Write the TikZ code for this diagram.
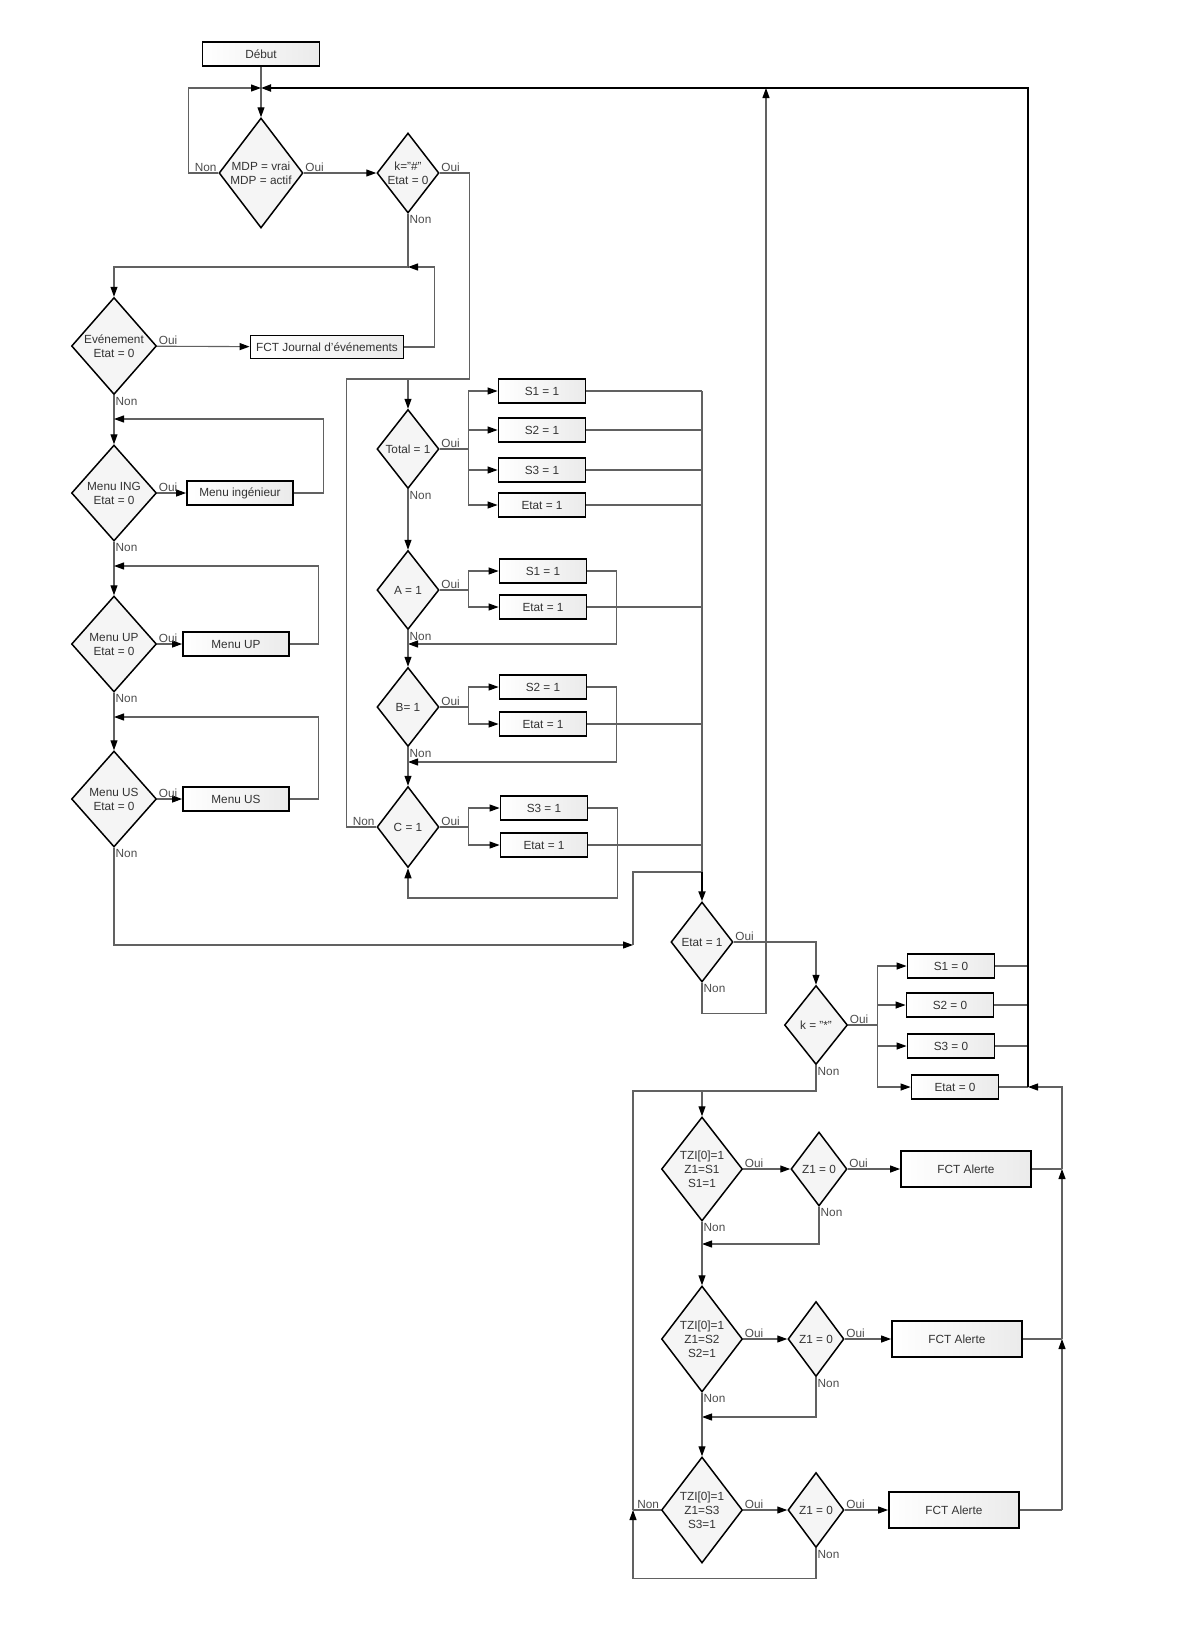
\documentclass[tikz,border=0pt]{standalone}
\usepackage{fontspec}
\setmainfont{Liberation Sans}
\usetikzlibrary{shapes.geometric,arrows.meta}
\tikzset{
	boite/.style={rectangle, draw=black, line width=1.8pt, left color=white, right color=gray!16, minimum width=87pt, minimum height=24pt, inner sep=0pt, text=black!80},
	losange/.style={diamond, draw=black, line width=1.5pt, fill=gray!8, inner sep=-5pt, align=center, text=black!80},
	lien/.style={draw=black!62, line width=1.1pt},
	fleche/.style={lien, -{Triangle[length=10pt,width=7pt,color=black]}},
	fort/.style={draw=black, line width=2pt, -{Triangle[length=10pt,width=7pt]}},
	oui/.style={anchor=south west, inner sep=1.5pt, text=black!70},
	non/.style={anchor=north west, inner sep=1.5pt, text=black!70},
	nong/.style={anchor=south east, inner sep=1.5pt, text=black!70}
}

\begin{document}
\begin{tikzpicture}[x=1pt, y=-1pt, every node/.append style={font=\fontsize{11.8}{14}\selectfont}]
			%%%%% START %%%%%
			\useasboundingbox (0,0) rectangle (1200,1650);
			
			\node[boite, minimum width=117pt] (debut) at (261,54) {Début};
			\coordinate (j0) at (261,88);
			\node[losange, minimum width=84pt, minimum height=110pt] (mdp) at (261,173) {MDP = vrai\\MDP = actif};
			\node[losange, minimum width=62pt, minimum height=80pt] (kdiese) at (408,173) {k="\#"\\Etat = 0};
			
			% menus
			\node[losange, minimum width=85pt, minimum height=97pt] (evt) at (114,346) {Evénement\\Etat = 0};
			\node[boite, minimum width=153pt, minimum height=23pt] (journal) at (327,347) {FCT Journal d'événements};
			\node[losange, minimum width=85pt, minimum height=96pt] (ing) at (114,493) {Menu ING\\Etat = 0};
			\node[boite, minimum width=106pt] (menuing) at (240,493) {Menu ingénieur};
			\node[losange, minimum width=85pt, minimum height=96pt] (up) at (114,644) {Menu UP\\Etat = 0};
			\node[boite, minimum width=106pt] (menuup) at (236,644) {Menu UP};
			\node[losange, minimum width=85pt, minimum height=96pt] (us) at (114,799) {Menu US\\Etat = 0};
			\node[boite, minimum width=106pt] (menuus) at (236,799) {Menu US};
			
			% sorties
			\node[losange, minimum width=62pt, minimum height=79pt] (total) at (408,449) {Total = 1};
			\node[boite] (tS1) at (542,391) {S1 = 1};
			\node[boite] (tS2) at (542,430) {S2 = 1};
			\node[boite] (tS3) at (542,470) {S3 = 1};
			\node[boite] (tEtat) at (542,505) {Etat = 1};
			\node[losange, minimum width=62pt, minimum height=79pt] (A) at (408,590) {A = 1};
			\node[boite] (aS1) at (543,571) {S1 = 1};
			\node[boite] (aEtat) at (543,607) {Etat = 1};
			\node[losange, minimum width=62pt, minimum height=79pt] (B) at (408,707) {B= 1};
			\node[boite] (bS2) at (543,687) {S2 = 1};
			\node[boite] (bEtat) at (543,724) {Etat = 1};
			\node[losange, minimum width=62pt, minimum height=81pt] (C) at (408,827) {C = 1};
			\node[boite] (cS3) at (544,808) {S3 = 1};
			\node[boite] (cEtat) at (544,845) {Etat = 1};
			
			% remise a zero
			\node[losange, minimum width=62pt, minimum height=80pt] (etat1) at (702,942) {Etat = 1};
			\node[losange, minimum width=63pt, minimum height=79pt] (kstar) at (816,1025) {k = "*"};
			\node[boite] (zS1) at (951,966) {S1 = 0};
			\node[boite] (zS2) at (950,1005) {S2 = 0};
			\node[boite] (zS3) at (951,1046) {S3 = 0};
			\node[boite] (zEtat) at (955,1087) {Etat = 0};
			
			% alertes
			\node[losange, minimum width=81pt, minimum height=104pt] (tzi1) at (702,1169) {TZI[0]=1\\Z1=S1\\S1=1};
			\node[losange, minimum width=56pt, minimum height=74pt] (z1a) at (819,1169) {Z1 = 0};
			\node[boite, minimum width=130pt, minimum height=36pt] (alerte1) at (966,1169) {FCT Alerte};
			\node[losange, minimum width=81pt, minimum height=106pt] (tzi2) at (702,1339) {TZI[0]=1\\Z1=S2\\S2=1};
			\node[losange, minimum width=56pt, minimum height=75pt] (z1b) at (816,1339) {Z1 = 0};
			\node[boite, minimum width=130pt, minimum height=36pt] (alerte2) at (957,1339) {FCT Alerte};
			\node[losange, minimum width=81pt, minimum height=106pt] (tzi3) at (702,1510) {TZI[0]=1\\Z1=S3\\S3=1};
			\node[losange, minimum width=56pt, minimum height=75pt] (z1c) at (816,1510) {Z1 = 0};
			\node[boite, minimum width=130pt, minimum height=36pt] (alerte3) at (954,1510) {FCT Alerte};
			
			\coordinate (j1) at (408,267);
			\coordinate (j2) at (114,419);
			\coordinate (j3) at (114,566);
			\coordinate (j4) at (114,717);
			\coordinate (j5) at (408,644);
			\coordinate (j6) at (408,762);
			\coordinate (j7) at (633,945);
			\coordinate (j8) at (702,872);
			\coordinate (j9) at (408,379);
			\coordinate (j10) at (408,898);
			\coordinate (j11) at (766,88);
			\coordinate (j12) at (1028,1087);
			\coordinate (j13) at (702,1091);
			\coordinate (j14) at (702,1244);
			\coordinate (j15) at (702,1417);
			\coordinate (j16) at (633,1510);
			\coordinate (r1) at (1062,1169);
			\coordinate (r2) at (1062,1339);
			\coordinate (r3) at (1062,1510);
			
			% debut
			\draw[lien] (debut) -- (j0);
			\draw[fleche] (j0) -- (mdp);
			\draw[fleche] (mdp.west) -- ++(-30,0) |- (j0);
			\draw[fleche] (mdp) -- (kdiese);
			\draw[fleche] (kdiese) -- (j1) -| (evt);
			\draw[fleche] (journal.east) -- ++(30,0) |- (j1);
			\draw[fleche] (evt) -- (journal);
			
			\draw[fleche] (evt) -- (ing);
			\draw[fleche] (menuing.east) -- ++(30,0) |- (j2);
			\draw[fleche] (ing) -- (menuing);
			\draw[fleche] (ing) -- (up);
			\draw[fleche] (menuup.east) -- ++(29,0) |- (j3);
			\draw[fleche] (up) -- (menuup);
			\draw[fleche] (up) -- (us);
			\draw[fleche] (menuus.east) -- ++(29,0) |- (j4);
			\draw[fleche] (us) -- (menuus);
			\draw[fleche] (us) |- (j7);
			\draw[lien] (j7) |- (j8);
			
			\draw[lien] (kdiese.east) -- ++(30,0) |- (j9);
			\draw[lien] (C.west) -- ++(-30,0) |- (j9);
			\draw[fleche] (j9) -- (total);
			
			\draw[lien] (total.east) -- ++(29,0) coordinate (t0);
			\foreach \b in {tS1,tS2,tS3,tEtat}
				\draw[fleche] (t0) |- (\b);
			\foreach \b in {tS1,tS2,tS3,tEtat,aEtat,bEtat,cEtat}
				\draw[lien] (\b.east) -- (\b.east -| j8);
			\draw[lien] (tS1.east -| j8) -- (j8);
			\draw[fort] (j8) -- (etat1);
			
			\draw[fleche] (total) -- (A);
			\draw[lien] (A.east) -- ++(29,0) coordinate (a0);
			\draw[fleche] (a0) |- (aS1);
			\draw[fleche] (a0) |- (aEtat);
			\draw[fleche] (aS1.east) -- ++(29,0) |- (j5);
			\draw[fleche] (A) -- (B);
			\draw[lien] (B.east) -- ++(29,0) coordinate (b0);
			\draw[fleche] (b0) |- (bS2);
			\draw[fleche] (b0) |- (bEtat);
			\draw[fleche] (bS2.east) -- ++(29,0) |- (j6);
			\draw[fleche] (B) -- (C);
			\draw[lien] (C.east) -- ++(29,0) coordinate (c0);
			\draw[fleche] (c0) |- (cS3);
			\draw[fleche] (c0) |- (cEtat);
			\draw[fleche] (cS3.east) -- ++(29,0) |- (j10) -- (C);
			
			\draw[fleche] (etat1.east) -| (kstar);
			\draw[fleche] (etat1.south) -- ++(0,31) -| (j11);
			\draw[lien] (kstar.east) -- ++(29,0) coordinate (k0);
			\foreach \b in {zS1,zS2,zS3,zEtat}
				\draw[fleche] (k0) |- (\b);
			\foreach \b in {zS1,zS2,zS3}
				\draw[lien] (\b.east) -- (\b.east -| j12);
			\draw[lien] (zEtat.east) -- (j12);
			\draw[fort] (j12) |- (j0);
			
			\draw[fleche] (kstar.south) |- (j13) -- (tzi1);
			\draw[fleche] (tzi1) -- (z1a);
			\draw[fleche] (z1a) -- (alerte1);
			\draw[fleche] (z1a) |- (j14);
			\draw[fleche] (tzi1) -- (tzi2);
			\draw[fleche] (tzi2) -- (z1b);
			\draw[fleche] (z1b) -- (alerte2);
			\draw[fleche] (z1b) |- (j15);
			\draw[fleche] (tzi2) -- (tzi3);
			\draw[fleche] (tzi3) -- (z1c);
			\draw[fleche] (z1c) -- (alerte3);
			\draw[fleche] (z1c.south) -- ++(0,30) -| (j16);
			\draw[lien] (tzi3.west) -- (j16);
			\draw[lien] (j16) |- (j13);
			
			\draw[lien] (alerte3.east) -- (r3);
			\draw[fleche] (r3) -- (r2);
			\draw[lien] (alerte2.east) -- (r2);
			\draw[fleche] (r2) -- (r1);
			\draw[lien] (alerte1.east) -- (r1);
			\draw[fleche] (r1) |- (j12);
			
			% libelles
			\node[nong] at (mdp.west) {Non};
			\node[oui] at (mdp.east) {Oui};
			\node[oui] at (kdiese.east) {Oui};
			\node[non] at (kdiese.south) {Non};
			\node[oui] at (evt.east) {Oui};
			\node[non] at (evt.south) {Non};
			\node[oui] at (ing.east) {Oui};
			\node[non] at (ing.south) {Non};
			\node[oui] at (up.east) {Oui};
			\node[non] at (up.south) {Non};
			\node[oui] at (us.east) {Oui};
			\node[non] at (us.south) {Non};
			\node[oui] at (total.east) {Oui};
			\node[non] at (total.south) {Non};
			\node[oui] at (A.east) {Oui};
			\node[non] at (A.south) {Non};
			\node[oui] at (B.east) {Oui};
			\node[non] at (B.south) {Non};
			\node[oui] at (C.east) {Oui};
			\node[nong] at (C.west) {Non};
			\node[oui] at (etat1.east) {Oui};
			\node[non] at (etat1.south) {Non};
			\node[oui] at (kstar.east) {Oui};
			\node[non] at (kstar.south) {Non};
			\node[oui] at (tzi1.east) {Oui};
			\node[non] at (tzi1.south) {Non};
			\node[oui] at (z1a.east) {Oui};
			\node[non] at (z1a.south) {Non};
			\node[oui] at (tzi2.east) {Oui};
			\node[non] at (tzi2.south) {Non};
			\node[oui] at (z1b.east) {Oui};
			\node[non] at (z1b.south) {Non};
			\node[oui] at (tzi3.east) {Oui};
			\node[nong] at (tzi3.west) {Non};
			\node[oui] at (z1c.east) {Oui};
			\node[non] at (z1c.south) {Non};
			
			%%%%% END %%%%%
\end{tikzpicture}
\end{document}
